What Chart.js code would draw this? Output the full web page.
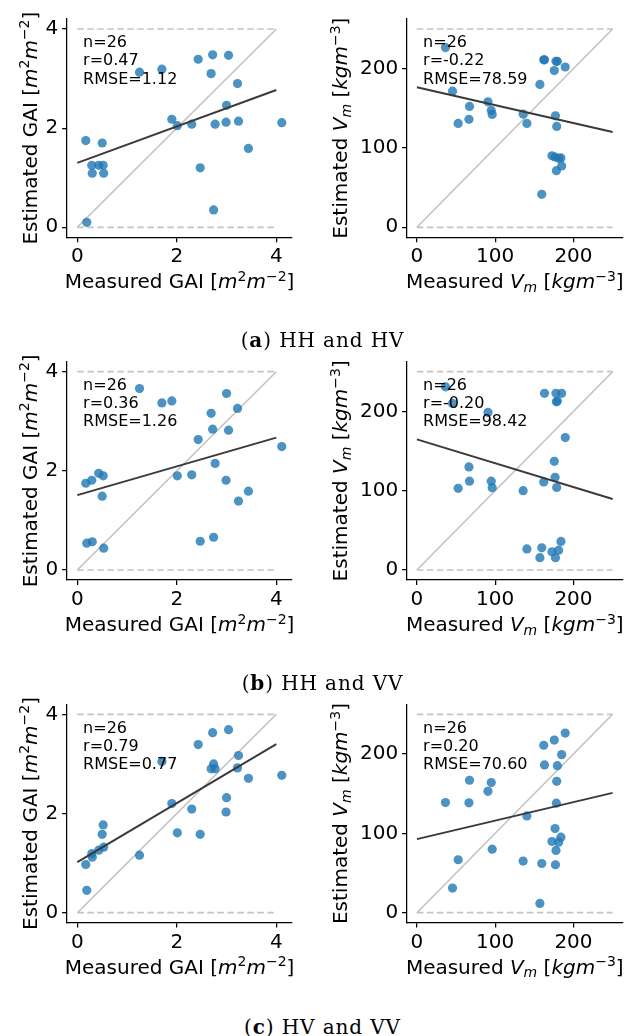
<!DOCTYPE html>
<html><head><meta charset="utf-8">
<script src="https://cdn.jsdelivr.net/npm/chart.js@4"></script>
<style>
html,body{margin:0;padding:0;background:#fff;}
body{width:627px;height:1036px;position:relative;overflow:hidden;}
canvas.panel{position:absolute;}
.cap{position:absolute;left:9px;width:627px;text-align:center;font-family:"DejaVu Serif";font-size:20px;line-height:20px;color:#000;z-index:5;letter-spacing:0.9px;white-space:nowrap;}
</style></head><body>
<div class="cap" id="cap0"></div><div class="cap" id="cap1"></div><div class="cap" id="cap2"></div>
<script>
// ---------- data ----------
const measuredGAI = [0.17, 0.19, 0.29, 0.30, 0.43, 0.50, 0.52, 0.53, 1.25, 1.70, 1.90, 2.01, 2.30, 2.43, 2.47, 2.69, 2.72, 2.74, 2.77, 2.99, 3.00, 3.04, 3.22, 3.24, 3.44, 4.11];
const estGAI_HH_HV = [1.75, 0.10, 1.25, 1.09, 1.25, 1.70, 1.25, 1.09, 3.13, 3.19, 2.18, 2.05, 2.08, 3.39, 1.20, 3.10, 3.48, 0.35, 2.08, 2.12, 2.46, 3.47, 2.90, 2.14, 1.59, 2.11];
const estGAI_HH_VV = [1.75, 0.54, 1.81, 0.57, 1.95, 1.49, 1.90, 0.44, 3.66, 3.37, 3.41, 1.90, 1.92, 2.63, 0.58, 3.16, 2.84, 0.66, 2.15, 1.81, 3.56, 2.82, 3.26, 1.39, 1.59, 2.49];
const estGAI_HV_VV = [0.97, 0.45, 1.19, 1.12, 1.26, 1.58, 1.77, 1.32, 1.16, 3.05, 2.20, 1.61, 2.09, 3.39, 1.58, 2.90, 3.63, 3.00, 2.90, 2.03, 2.32, 3.69, 2.92, 3.17, 2.71, 2.77];

const measuredVm = [36.5, 45.5, 52.7, 66.5, 67.2, 90.8, 95.0, 96.2, 135.7, 140.5, 157.1, 159.5, 162.0, 163.0, 172.5, 175.5, 176.5, 177.0, 177.7, 178.2, 178.6, 179.4, 181.1, 184.0, 184.9, 189.5];
const estVm_HH_HV = [226.6, 171.6, 131.0, 136.1, 152.4, 158.2, 147.3, 142.3, 142.7, 131.0, 180.1, 41.6, 211.1, 211.1, 90.2, 197.6, 88.6, 140.6, 209.2, 71.4, 127.2, 209.2, 87.0, 87.4, 77.3, 202.1];
const estVm_HH_VV = [231.0, 210.0, 103.0, 130.0, 112.0, 198.7, 112.0, 103.8, 100.0, 26.5, 15.5, 28.0, 111.0, 222.7, 23.0, 137.0, 116.8, 15.5, 222.7, 212.0, 104.0, 213.0, 25.0, 36.0, 222.7, 167.0];
const estVm_HV_VV = [138.8, 31.0, 66.7, 138.4, 166.9, 153.0, 164.0, 80.0, 65.0, 122.0, 11.7, 62.0, 211.0, 186.2, 89.7, 217.6, 106.0, 60.4, 78.4, 138.0, 165.6, 185.3, 88.9, 95.2, 199.2, 226.4];

// regression line values at the two ends of the reference range
const fitGAI_HH_HV = [1.30, 2.77];
const fitGAI_HH_VV = [1.51, 2.67];
const fitGAI_HV_VV = [1.02, 3.40];
const fitVm_HH_HV = [176.5, 120.2];
const fitVm_HH_VV = [164.7, 89.5];
const fitVm_HV_VV = [92.7, 151.0];

const statsGAI_HH_HV = ["n=26", "r=0.47", "RMSE=1.12"];
const statsVm_HH_HV  = ["n=26", "r=-0.22", "RMSE=78.59"];
const statsGAI_HH_VV = ["n=26", "r=0.36", "RMSE=1.26"];
const statsVm_HH_VV  = ["n=26", "r=-0.20", "RMSE=98.42"];
const statsGAI_HV_VV = ["n=26", "r=0.79", "RMSE=0.77"];
const statsVm_HV_VV  = ["n=26", "r=0.20", "RMSE=70.60"];

const rangeGAI = [0, 4];      // 1:1 line and dashed bounds
const rangeVm = [0, 250];
const ticksGAI = [0, 2, 4];
const ticksVm = [0, 100, 200];
const axisLimitsGAI = {x: [-0.2055, 4.3155], y: [-0.2, 4.2]};
const axisLimitsVm = {x: [-12.5, 262.5], y: [-12.5, 262.5]};

const captionLetters = ["a", "b", "c"];
const captionTexts = ["HH and HV", "HH and VV", "HV and VV"];

// ---------- titles (rich text) ----------
const FONT = '"DejaVu Sans"';
const titleGAI_x = [{t: "Measured GAI ["}, {t: "m", it: 1}, {t: "2", sup: 1}, {t: "m", it: 1}, {t: "\u22122", sup: 1}, {t: "]"}];
const titleGAI_y = [{t: "Estimated GAI ["}, {t: "m", it: 1}, {t: "2", sup: 1}, {t: "m", it: 1}, {t: "\u22122", sup: 1}, {t: "]"}];
const titleVm_x = [{t: "Measured "}, {t: "V", it: 1}, {t: "m", it: 1, sub: 1}, {t: " ["}, {t: "kgm", it: 1}, {t: "\u22123", sup: 1}, {t: "]"}];
const titleVm_y = [{t: "Estimated "}, {t: "V", it: 1}, {t: "m", it: 1, sub: 1}, {t: " ["}, {t: "kgm", it: 1}, {t: "\u22123", sup: 1}, {t: "]"}];

function segFont(s, size) {
  const sz = (s.sup || s.sub) ? size * 0.7 : size;
  return (s.it ? 'italic ' : '') + sz + 'px ' + FONT;
}
function drawRich(ctx, segs, cx, baseY, size) {
  let total = 0;
  const widths = segs.map(s => { ctx.font = segFont(s, size); const w = ctx.measureText(s.t).width; total += w; return w; });
  let x = cx - total / 2;
  ctx.textBaseline = 'alphabetic';
  ctx.textAlign = 'left';
  ctx.fillStyle = '#000';
  segs.forEach((s, i) => {
    ctx.font = segFont(s, size);
    let dy = 0;
    if (s.sup) dy = -0.37 * size;
    if (s.sub) dy = 0.17 * size;
    ctx.fillText(s.t, x, baseY + dy);
    x += widths[i];
  });
}

// ---------- layout ----------
const rowTops = [19.1, 361.8, 704.4];
const rowBottoms = [237.2, 579.9, 922.6];
const colLefts = [67.1, 407.1];
const colRights = [292.0, 625.3];
const canvasLefts = [0, 310];
const canvasWidths = [310, 317];
const canvasTops = [0, 342, 685];
const canvasH = 300;

const panels = [
  {r: 0, c: 0, kind: 'GAI', mx: measuredGAI, est: estGAI_HH_HV, fit: fitGAI_HH_HV, stats: statsGAI_HH_HV},
  {r: 0, c: 1, kind: 'Vm', mx: measuredVm, est: estVm_HH_HV, fit: fitVm_HH_HV, stats: statsVm_HH_HV},
  {r: 1, c: 0, kind: 'GAI', mx: measuredGAI, est: estGAI_HH_VV, fit: fitGAI_HH_VV, stats: statsGAI_HH_VV},
  {r: 1, c: 1, kind: 'Vm', mx: measuredVm, est: estVm_HH_VV, fit: fitVm_HH_VV, stats: statsVm_HH_VV},
  {r: 2, c: 0, kind: 'GAI', mx: measuredGAI, est: estGAI_HV_VV, fit: fitGAI_HV_VV, stats: statsGAI_HV_VV},
  {r: 2, c: 1, kind: 'Vm', mx: measuredVm, est: estVm_HV_VV, fit: fitVm_HV_VV, stats: statsVm_HV_VV},
];

const TICK_FONT = {family: 'DejaVu Sans', size: 20};

panels.forEach((p, idx) => {
  const cv = document.createElement('canvas');
  cv.className = 'panel';
  const cl = canvasLefts[p.c], ct = canvasTops[p.r], cw = canvasWidths[p.c];
  cv.width = cw; cv.height = canvasH;
  cv.style.left = cl + 'px'; cv.style.top = ct + 'px';
  cv.style.width = cw + 'px'; cv.style.height = canvasH + 'px';
  document.body.appendChild(cv);

  const padTop = rowTops[p.r] - ct;
  const padRight = cl + cw - colRights[p.c];
  const yW = colLefts[p.c] - cl;
  const xH = ct + canvasH - rowBottoms[p.r];

  const isG = p.kind === 'GAI';
  const rng = isG ? rangeGAI : rangeVm;
  const tks = isG ? ticksGAI : ticksVm;
  const lim = isG ? axisLimitsGAI : axisLimitsVm;
  const xTitle = isG ? titleGAI_x : titleVm_x;
  const yTitle = isG ? titleGAI_y : titleVm_y;
  const yTitleOffset = isG ? 30.4 : 59.8;

  const pts = p.mx.map((x, i) => ({x: x, y: p.est[i]}));

  const richPlugin = {
    id: 'rich' + idx,
    afterDraw(chart) {
      const ctx = chart.ctx, a = chart.chartArea;
      ctx.save();
      drawRich(ctx, xTitle, (a.left + a.right) / 2, a.bottom + 51.2, 20);
      ctx.translate(a.left - yTitleOffset, (a.top + a.bottom) / 2);
      ctx.rotate(-Math.PI / 2);
      drawRich(ctx, yTitle, 0, 0, 20);
      ctx.restore();
      ctx.save();
      ctx.font = '16px ' + FONT;
      ctx.fillStyle = '#000';
      ctx.textAlign = 'left';
      ctx.textBaseline = 'alphabetic';
      const offs = [28.2, 46.3, 64.4];
      p.stats.forEach((s, i) => ctx.fillText(s, a.left + 16, a.top + offs[i]));
      ctx.restore();
    }
  };

  const axisCommon = {
    type: 'linear',
    grid: {display: true, drawOnChartArea: false, drawTicks: true, tickLength: 5, color: '#000', lineWidth: 1.25},
    border: {display: true, color: '#000', width: 1.25},
  };

  new Chart(cv, {
    type: 'scatter',
    data: {
      datasets: [
        {type: 'line', data: [{x: rng[0], y: p.fit[0]}, {x: rng[1], y: p.fit[1]}], borderColor: '#3a3a3a', borderWidth: 2, pointRadius: 0, order: 1},
        {type: 'scatter', data: pts, backgroundColor: 'rgba(31,119,180,0.8)', borderWidth: 0, pointRadius: 4.6, order: 2},
        {type: 'line', data: [{x: rng[0], y: rng[0]}, {x: rng[1], y: rng[1]}], borderColor: '#c0c0c0', borderWidth: 1.5, pointRadius: 0, order: 3},
        {type: 'line', data: [{x: rng[0], y: rng[0]}, {x: rng[1], y: rng[0]}], borderColor: '#c4c4c4', borderWidth: 1.7, borderDash: [6.5, 3.5], pointRadius: 0, order: 4},
        {type: 'line', data: [{x: rng[0], y: rng[1]}, {x: rng[1], y: rng[1]}], borderColor: '#c4c4c4', borderWidth: 1.7, borderDash: [6.5, 3.5], pointRadius: 0, order: 4},
      ]
    },
    options: {
      responsive: false, animation: false, devicePixelRatio: 1,
      layout: {padding: {top: padTop, right: padRight, left: 0, bottom: 0}},
      plugins: {legend: {display: false}, tooltip: {enabled: false}},
      elements: {line: {tension: 0}},
      scales: {
        x: Object.assign({}, axisCommon, {
          position: 'bottom', min: lim.x[0], max: lim.x[1],
          afterBuildTicks: s => { s.ticks = tks.map(v => ({value: v})); },
          afterFit: s => { s.height = xH; },
          ticks: {font: TICK_FONT, color: '#000', padding: 3, maxRotation: 0, autoSkip: false},
        }),
        y: Object.assign({}, axisCommon, {
          position: 'left', min: lim.y[0], max: lim.y[1],
          afterBuildTicks: s => { s.ticks = tks.map(v => ({value: v})); },
          afterFit: s => { s.width = yW; },
          ticks: {font: TICK_FONT, color: '#000', padding: 4, autoSkip: false},
        }),
      }
    },
    plugins: [richPlugin]
  });
});

// captions
const capBaselines = [346.5, 690.0, 1034.0];
captionLetters.forEach((l, i) => {
  const d = document.getElementById('cap' + i);
  d.innerHTML = '(<b>' + l + '</b>) ' + captionTexts[i];
  d.style.top = (capBaselines[i] - 16.9) + 'px';
});
</script>
</body></html>
